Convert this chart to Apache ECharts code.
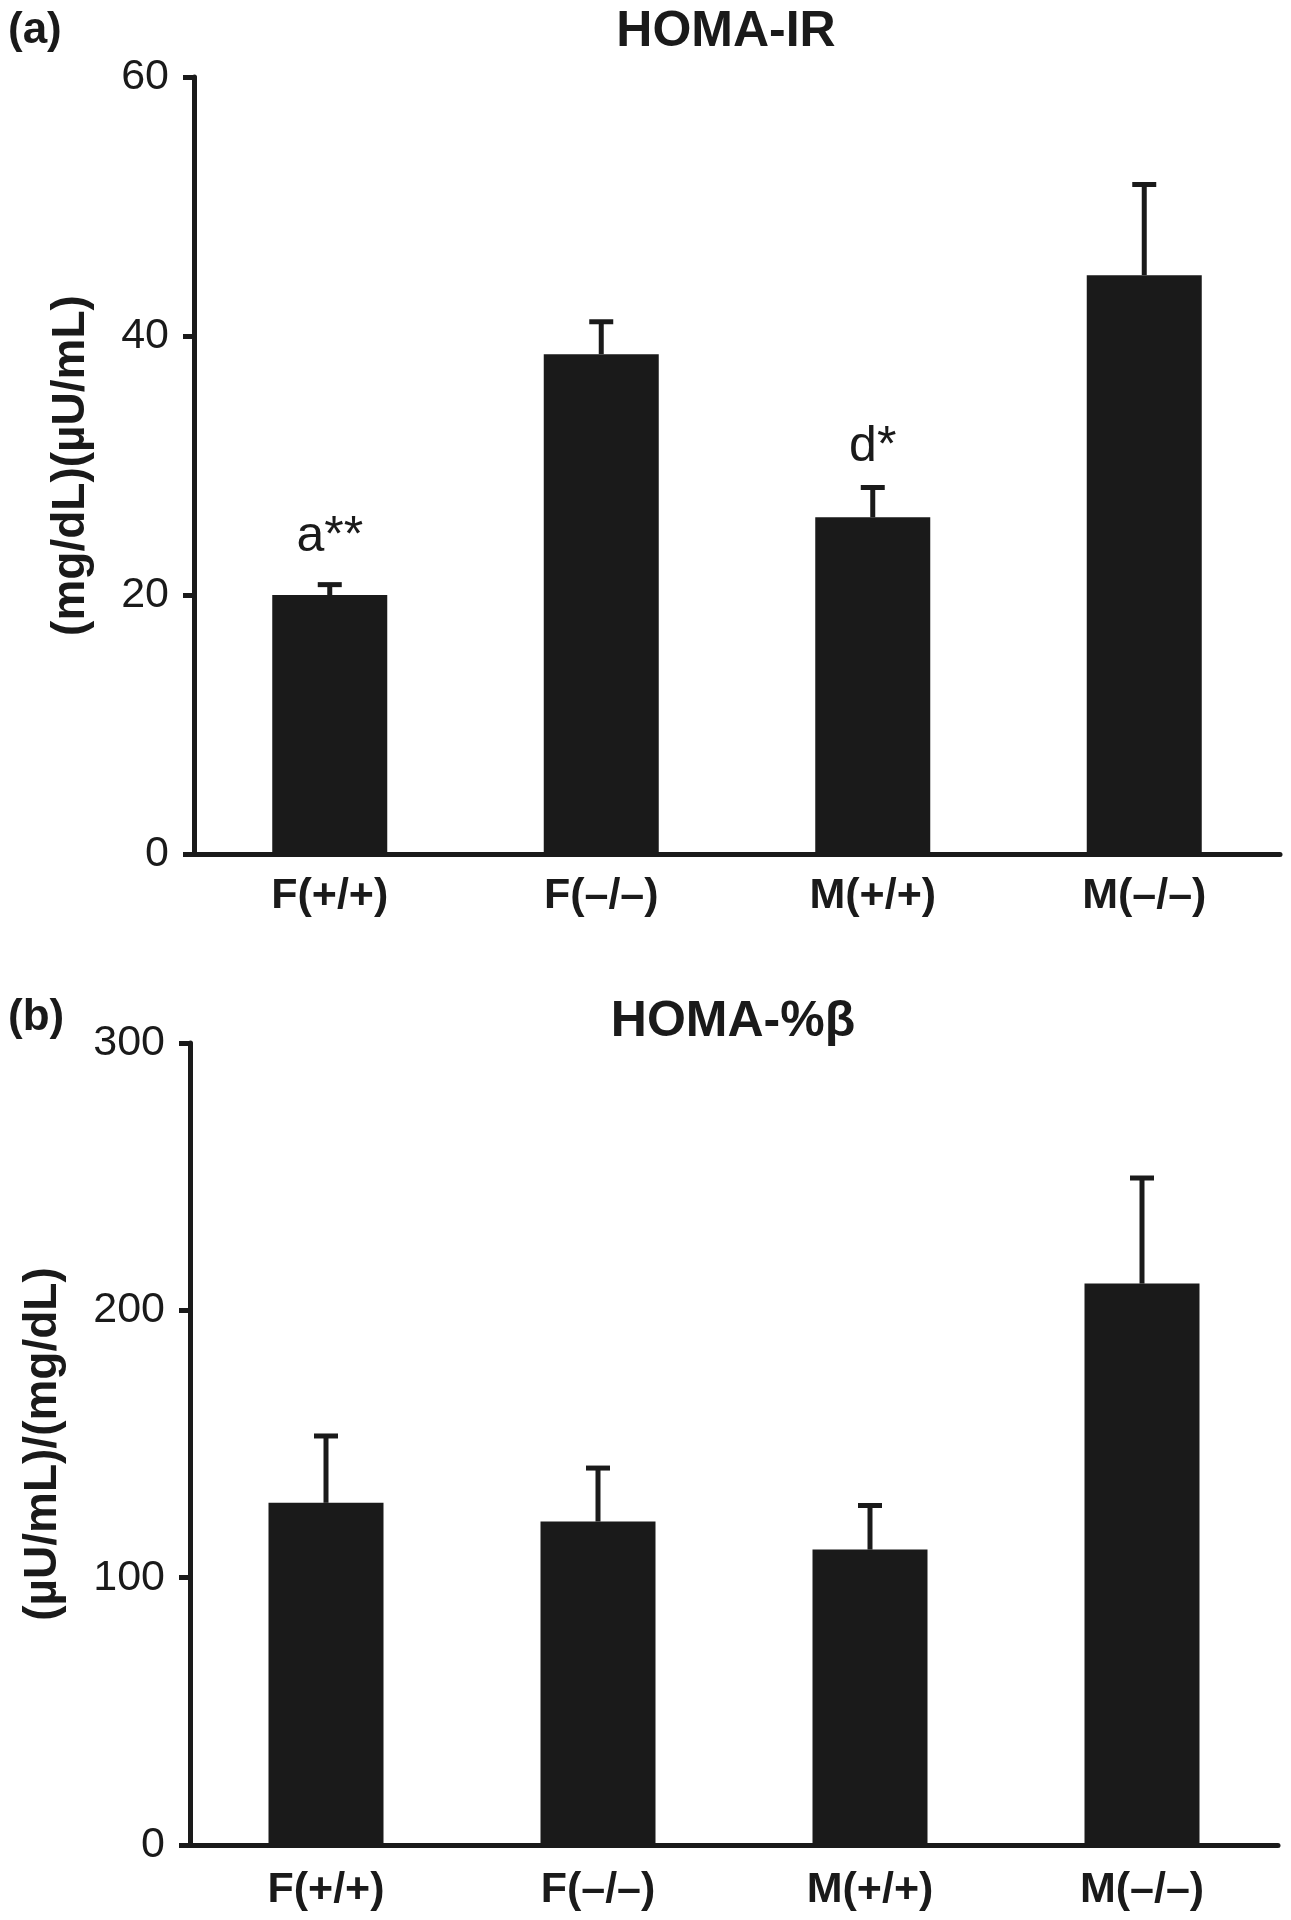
<!DOCTYPE html>
<html>
<head>
<meta charset="utf-8">
<script src="https://cdn.jsdelivr.net/npm/echarts@6/dist/echarts.min.js"></script>
<style>
html,body{margin:0;padding:0;background:#fff;}
#chart{width:1291px;height:1920px;}
</style>
</head>
<body>
<div id="chart"></div>
<script>
// ---- data ----
var categories = ['F(+/+)', 'F(\u2013/\u2013)', 'M(+/+)', 'M(\u2013/\u2013)'];
var irMean = [20.0, 38.6, 26.0, 44.7];
var irSem = [0.8, 2.5, 2.3, 7.0];
var irNotes = ['a**', '', 'd*', ''];
var irNoteAt = [24.5, null, 31.4, null];
var betaMean = [128, 121, 110.5, 210];
var betaSem = [25, 20, 16.5, 39.5];
var betaNotes = ['', '', '', ''];
var betaNoteAt = [null, null, null, null];
var irTicks = [0, 20, 40, 60];
var betaTicks = [0, 100, 200, 300];

var INK = '#1a1a1a';
var FONT = '"Liberation Sans", Arial, Helvetica, sans-serif';

function errData(mean, sem) {
  return mean.map(function (m, i) { return [i, m, m + sem[i]]; });
}

function makeRender(notes, noteAt) {
  return function (params, api) {
    var idx = params.dataIndex;
    var i = api.value(0);
    var top = api.coord([i, api.value(1)]);
    var cap = api.coord([i, api.value(2)]);
    var half = 12;
    var children = [
      { type: 'line', shape: { x1: top[0], y1: top[1], x2: cap[0], y2: cap[1] },
        style: { stroke: INK, lineWidth: 5 } },
      { type: 'line', shape: { x1: cap[0] - half, y1: cap[1], x2: cap[0] + half, y2: cap[1] },
        style: { stroke: INK, lineWidth: 5 } }
    ];
    if (notes[idx] && noteAt[idx] != null) {
      var p = api.coord([i, noteAt[idx]]);
      children.push({ type: 'text', x: p[0], y: p[1],
        style: { text: notes[idx], fill: INK, font: 'normal 50px ' + FONT,
                 align: 'center', verticalAlign: 'middle', textAlign: 'center', textVerticalAlign: 'middle' } });
    }
    return { type: 'group', children: children };
  };
}

function yAxisCfg(gridIndex, ticks, name, gap) {
  return {
    type: 'value', gridIndex: gridIndex,
    min: ticks[0], max: ticks[ticks.length - 1], interval: ticks[1] - ticks[0],
    name: name, nameLocation: 'middle', nameGap: gap,
    nameTextStyle: { fontFamily: FONT, fontWeight: 'bold', fontSize: 46, color: INK },
    axisLine: { show: true, lineStyle: { color: INK, width: 5 } },
    axisTick: { show: true, length: 11, lineStyle: { color: INK, width: 5 } },
    axisLabel: { fontFamily: FONT, fontSize: 43, color: INK, margin: 25 },
    splitLine: { show: false }
  };
}

function xAxisCfg(gridIndex, margin) {
  return {
    type: 'category', gridIndex: gridIndex, data: categories,
    axisLine: { show: true, lineStyle: { color: INK, width: 5 } },
    axisTick: { show: false },
    axisLabel: { fontFamily: FONT, fontSize: 43, fontWeight: 'bold', color: INK, margin: margin, lineHeight: 43 },
    splitLine: { show: false }
  };
}

function textEl(x, y, text, size, align) {
  return { type: 'text', x: x, y: y,
    style: { text: text, fill: INK, font: 'bold ' + size + 'px ' + FONT,
             align: align, verticalAlign: 'middle', textAlign: align, textVerticalAlign: 'middle' } };
}

var chart = echarts.init(document.getElementById('chart'), null, { renderer: 'canvas' });
chart.setOption({
  backgroundColor: '#fff',
  animation: false,
  grid: [
    { left: 194, top: 77, width: 1086, height: 777 },
    { left: 190, top: 1043, width: 1088, height: 802 }
  ],
  xAxis: [xAxisCfg(0, 21), xAxisCfg(1, 24)],
  yAxis: [
    yAxisCfg(0, irTicks, '(mg/dL)(\u00b5U/mL)', 100),
    yAxisCfg(1, betaTicks, '(\u00b5U/mL)/(mg/dL)', 124)
  ],
  graphic: [
    textEl(8, 31, '(a)', 44, 'left'),
    textEl(726, 32, 'HOMA-IR', 50, 'center'),
    textEl(8, 1018, '(b)', 44, 'left'),
    textEl(733, 1022, 'HOMA-%\u03b2', 50, 'center')
  ],
  series: [
    { type: 'bar', xAxisIndex: 0, yAxisIndex: 0, data: irMean, barWidth: 115,
      itemStyle: { color: INK }, silent: true },
    { type: 'custom', xAxisIndex: 0, yAxisIndex: 0, renderItem: makeRender(irNotes, irNoteAt),
      data: errData(irMean, irSem), z: 3, silent: true },
    { type: 'bar', xAxisIndex: 1, yAxisIndex: 1, data: betaMean, barWidth: 115,
      itemStyle: { color: INK }, silent: true },
    { type: 'custom', xAxisIndex: 1, yAxisIndex: 1, renderItem: makeRender(betaNotes, betaNoteAt),
      data: errData(betaMean, betaSem), z: 3, silent: true }
  ]
});
</script>
</body>
</html>
